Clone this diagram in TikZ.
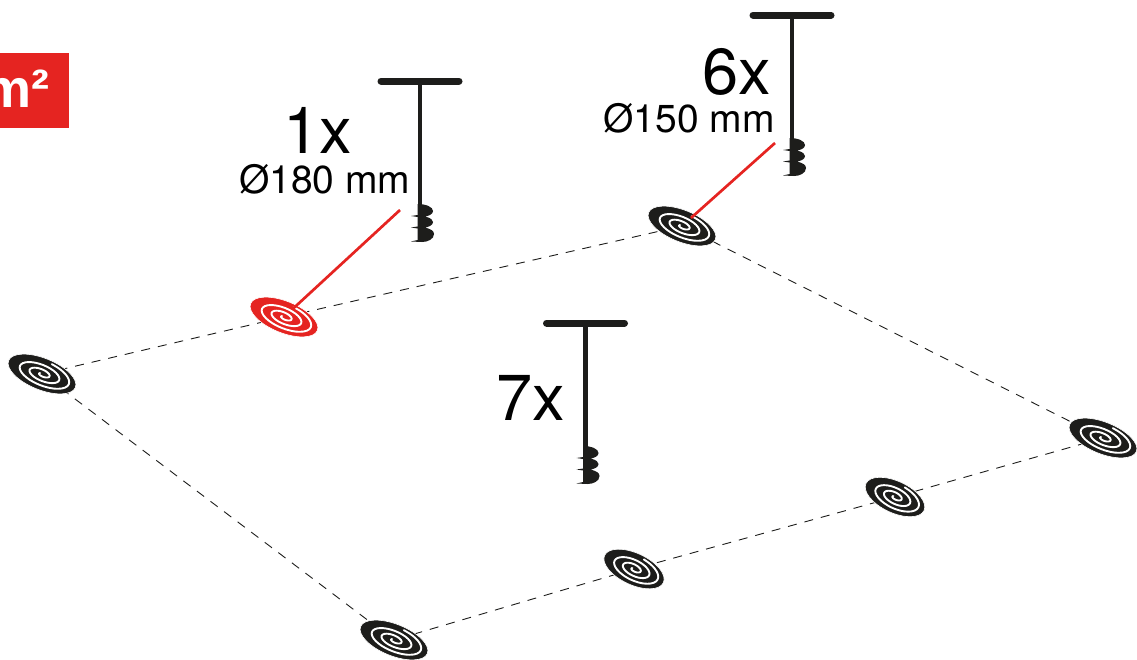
\documentclass[tikz,border=0pt]{standalone}
\usepackage{fontspec}
\setmainfont{TeX Gyre Heros}
\newfontfamily\badgefont{Liberation Sans}
\definecolor{brandred}{HTML}{E52421}
\definecolor{inkblack}{HTML}{1D1D1B}
\tikzset{
  x=1pt,y=-1pt,
  bigcount/.style={inner sep=0pt,anchor=base east,font=\fontsize{65}{65}\selectfont,text=black},
  sizelabel/.style={inner sep=0pt,anchor=base east,font=\fontsize{39}{39}\selectfont,text=black},
  dashlink/.style={draw=inkblack,line width=0.9pt,dash pattern=on 9pt off 8pt},
  redlink/.style={draw=brandred,line width=2.7pt,shorten >=12pt},
  pics/target/.style 2 args={code={
    \begin{scope}[rotate=#2,xscale=#1]
      \fill[pic actions,draw=white,line width=0.6pt] (0,0) ellipse [x radius=36,y radius=15.8];
      \draw[white,line width=1.9pt,line cap=round] plot[smooth,domain=-30:960,samples=90,variable=\t]
        ({(3+\t/960*28)*cos(\t+200)},{-0.42*(3+\t/960*28)*sin(\t+200)});
    \end{scope}
  }},
  pics/auger/.style={code={
    \draw[inkblack,line width=7pt,line cap=round] (-39,0) -- (39,0);
    \draw[inkblack,line width=4.8pt] (0,0) -- (0,158);
    \fill[inkblack] (-2.4,123) .. controls (6,123) and (13,126) .. (13,130)
      .. controls (13,133) and (9,135) .. (5,135.5)
      .. controls (11,137) and (13,139) .. (13,141)
      .. controls (13,144) and (9,146) .. (5,146.5)
      .. controls (11,148) and (14,150) .. (14,153)
      .. controls (14,158) and (8,161) .. (2,161)
      -- (-9,160.5) -- (-2.4,159) -- (-2.4,147.5) -- (-9,146.5) -- (-2.4,145.5)
      -- (-2.4,136) -- (-9,135) -- (-2.4,134) -- cycle;
  }}
}
\begin{document}
\begin{tikzpicture}
\useasboundingbox (0,0) rectangle (1137,659);
% badge
\fill[brandred] (0,53) rectangle (69,128);
\node[inner sep=0pt,anchor=base east,text=white,font=\badgefont\fontsize{54}{54}\selectfont\bfseries] (badge) at (50,107) {m²};
% target positions
\coordinate (t1) at (42,374);
\coordinate (t2) at (284,317);
\coordinate (t3) at (682,226);
\coordinate (t4) at (1103,438);
\coordinate (t5) at (895,497);
\coordinate (t6) at (634,569);
\coordinate (t7) at (394,640);
% dashed outline
\draw[dashlink] (t1) -- (t2);
\draw[dashlink] (t2) -- (t3);
\draw[dashlink] (t3) -- (t4);
\draw[dashlink] (t4) -- (t5);
\draw[dashlink] (t5) -- (t6);
\draw[dashlink] (t6) -- (t7);
\draw[dashlink] (t7) -- (t1);
% targets
\pic[fill=inkblack] at (t1) {target={1}{-22}};
\pic[fill=brandred] at (t2) {target={1}{-22}};
\pic[fill=inkblack] at (t3) {target={1}{-22}};
\pic[fill=inkblack] at (t4) {target={1}{-22}};
\pic[fill=inkblack] at (t5) {target={0.89}{-25}};
\pic[fill=inkblack] at (t6) {target={0.9}{-25}};
\pic[fill=inkblack] at (t7) {target={1}{-22}};
% augers
\pic at (420,81) {auger};
\pic at (792,15) {auger};
\pic at (585.5,323) {auger};
% labels
\node[bigcount] (n1) at (352,153) {1x};
\node[sizelabel] (s1) at (410.5,193) {Ø180 mm};
\node[bigcount] (n6) at (771,94) {6x};
\node[sizelabel] (s6) at (775,132) {Ø150 mm};
\node[bigcount] (n7) at (565,420) {7x};
% red leaders
\coordinate (r1) at (400,210);
\coordinate (r6) at (775,143);
\draw[redlink] (r1) -- (t2);
\draw[redlink] (r6) -- (t3);
\end{tikzpicture}
\end{document}
